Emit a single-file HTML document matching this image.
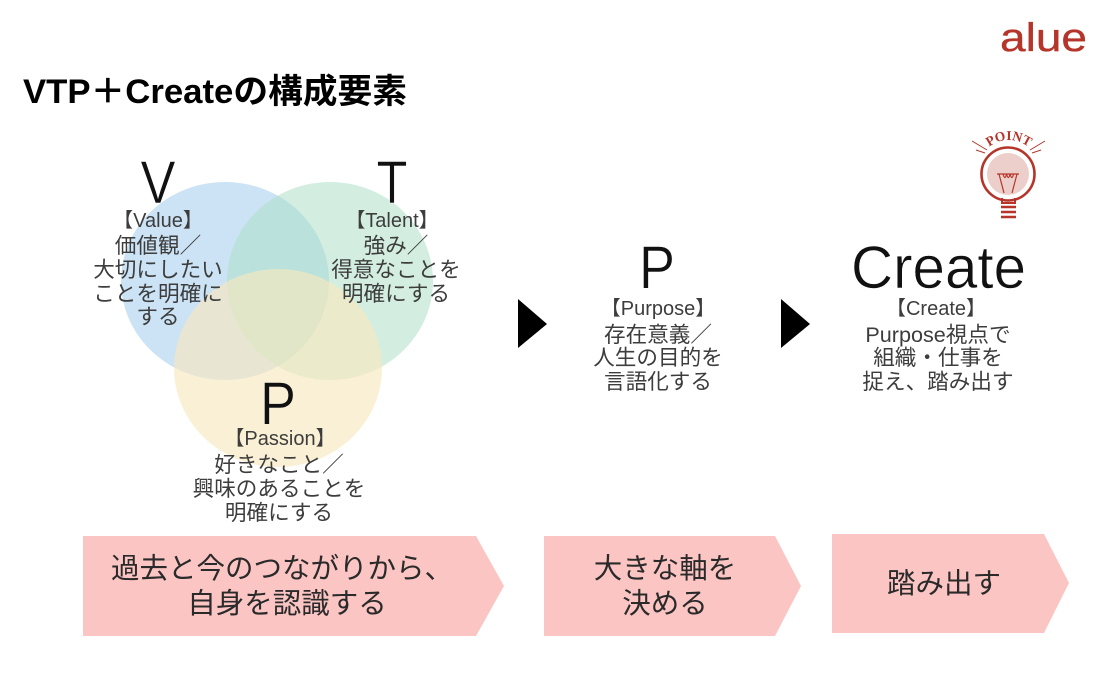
<!DOCTYPE html>
<html lang="ja">
<head>
<meta charset="utf-8">
<title>VTP+Create</title>
<style>
html,body{margin:0;padding:0;background:#fff;width:1100px;height:700px;overflow:hidden}
svg{display:block}
text{font-family:"Liberation Sans","Noto Sans CJK JP",sans-serif}
.big{fill:#111;text-anchor:middle;stroke-width:.6px}
.l{fill:#3d3d3d;font-size:21.6px;text-anchor:middle}
.h{font-size:20px}
.b{fill:#2a2a2a;font-size:28.5px;text-anchor:middle}
</style>
</head>
<body>
<svg width="1100" height="700" viewBox="0 0 1100 700" xmlns="http://www.w3.org/2000/svg">
<rect width="1100" height="700" fill="#fff"/>

<text x="1000" y="51" font-size="40" fill="#b5352a" stroke="#b5352a" stroke-width=".35" textLength="87" lengthAdjust="spacingAndGlyphs">alue</text>
<text x="23" y="103" font-size="34" font-weight="700" fill="#000" textLength="384" lengthAdjust="spacingAndGlyphs">VTP＋Createの構成要素</text>

<!-- Venn -->
<ellipse cx="225" cy="281" rx="104" ry="99" fill="#a9d0ef" fill-opacity=".6"/>
<ellipse cx="330" cy="281" rx="103" ry="99" fill="#aee0c6" fill-opacity=".55"/>
<ellipse cx="278" cy="368" rx="104" ry="99" fill="#f7e8bf" fill-opacity=".65"/>

<text class="big" x="158" y="203" font-size="60" stroke="#fff" textLength="35" lengthAdjust="spacingAndGlyphs">V</text>
<text class="big" x="392" y="203" font-size="60" stroke="#fff" textLength="31" lengthAdjust="spacingAndGlyphs">T</text>
<text class="big" x="278" y="424" font-size="60" stroke="#f9f1dc" textLength="36" lengthAdjust="spacingAndGlyphs">P</text>

<text class="l h" x="158" y="227">【Value】</text>
<text class="l" x="158" y="253">価値観／</text>
<text class="l" x="158" y="277">大切にしたい</text>
<text class="l" x="158" y="301">ことを明確に</text>
<text class="l" x="158" y="324">する</text>

<text class="l h" x="392" y="227">【Talent】</text>
<text class="l" x="396" y="253">強み／</text>
<text class="l" x="396" y="277">得意なことを</text>
<text class="l" x="396" y="301">明確にする</text>

<text class="l h" x="280" y="445">【Passion】</text>
<text class="l" x="279" y="472">好きなこと／</text>
<text class="l" x="279" y="496">興味のあることを</text>
<text class="l" x="279" y="520">明確にする</text>

<!-- Arrows -->
<polygon points="518,299 547,324 518,348" fill="#000"/>
<polygon points="781,299 810,324 781,348" fill="#000"/>

<!-- Purpose -->
<text class="big" x="657" y="288" font-size="60" stroke="#fff" textLength="36" lengthAdjust="spacingAndGlyphs">P</text>
<text class="l h" x="658" y="315">【Purpose】</text>
<text class="l" x="658" y="342">存在意義／</text>
<text class="l" x="658" y="365">人生の目的を</text>
<text class="l" x="658" y="389">言語化する</text>

<!-- Create -->
<text class="big" x="938.5" y="288" font-size="60" stroke="#fff" textLength="175" lengthAdjust="spacingAndGlyphs">Create</text>
<text class="l h" x="936" y="315">【Create】</text>
<text class="l" x="938" y="342">Purpose視点で</text>
<text class="l" x="938" y="365">組織・仕事を</text>
<text class="l" x="938" y="389">捉え、踏み出す</text>

<!-- Point bulb -->
<g fill="none" stroke="#b5352a">
  <circle cx="1008" cy="174" r="26.5" stroke-width="2.6"/>
  <circle cx="1008" cy="174" r="21" fill="#eccfca" stroke="none"/>
  <path d="M997 174h22M999 174l5 19M1017 174l-5 19" stroke-width="1.2"/>
  <path d="M1003 174q2 7 3.5 0q2 7 3.5 0q2 7 3.5 0" stroke-width="1.2"/>
  <path d="M1002 198v5h13v-5" stroke-width="2"/>
  <path d="M1001 207h15M1001 212h15M1001 217h15" stroke-width="2.6"/>
  <path d="M972 141l15 9M976 150l9 3M1045 141l-15 9M1041 150l-9 3" stroke-width="1"/>
</g>
<path id="pt" d="M985 150Q1008 130 1033 150" fill="none"/>
<text font-size="13.5" font-weight="700" fill="#b5352a" text-anchor="middle" style="font-family:'Liberation Serif',serif"><textPath href="#pt" startOffset="50%">POINT</textPath></text>

<!-- Pentagons -->
<polygon points="83,536 476,536 504,586 476,636 83,636" fill="#fbc5c3"/>
<polygon points="544,536 775,536 801,586 775,636 544,636" fill="#fbc5c3"/>
<polygon points="832,534 1044,534 1069,583 1044,633 832,633" fill="#fbc5c3"/>

<text class="b" x="282" y="578">過去と今のつながりから、</text>
<text class="b" x="287" y="613">自身を認識する</text>
<text class="b" x="665" y="578">大きな軸を</text>
<text class="b" x="665" y="613">決める</text>
<text class="b" x="944" y="593">踏み出す</text>
</svg>
</body>
</html>
